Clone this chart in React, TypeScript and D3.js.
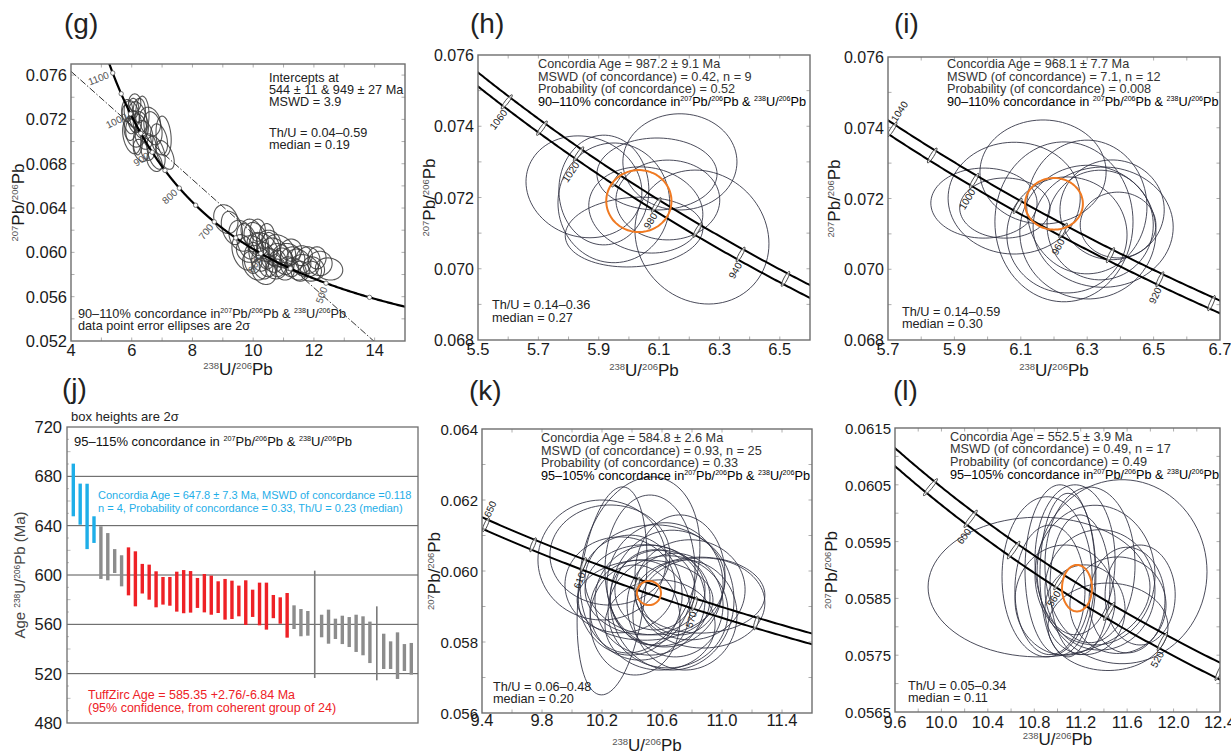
import React from 'react';
import * as d3 from 'd3';

const FONT = '"Liberation Sans", Arial, Helvetica, sans-serif';

// decay constants (1/Ma) and 238U/235U for the Tera-Wasserburg concordia
const L238 = 1.55125e-4;
const L235 = 9.8485e-4;
const U_RATIO = 137.88;
const BAND = 0.0026; // half width of the decay-constant envelope (relative)

// ---- (g) discordia plot: ellipses are [x, y, halfX, halfY, rho]
const gEllipses = [
  [6.0, 0.0725, 0.25, 0.0012, -0.3],
  [6.1, 0.0718, 0.22, 0.001, -0.2],
  [5.95, 0.0712, 0.2, 0.0011, 0],
  [6.2, 0.0722, 0.3, 0.0014, -0.3],
  [6.05, 0.073, 0.18, 0.0009, 0],
  [6.3, 0.0715, 0.25, 0.0012, -0.2],
  [5.9, 0.072, 0.22, 0.0013, -0.4],
  [6.15, 0.071, 0.35, 0.0015, 0],
  [6.25, 0.0728, 0.2, 0.0011, 0],
  [6.4, 0.0706, 0.3, 0.0013, -0.2],
  [6.0, 0.0705, 0.3, 0.0016, -0.3],
  [6.35, 0.0724, 0.22, 0.0017, 0],
  [6.1, 0.0735, 0.2, 0.0008, 0],
  [5.85, 0.0728, 0.18, 0.001, 0],
  [6.2, 0.07, 0.15, 0.0012, 0],
  [6.7, 0.0712, 0.3, 0.0015, -0.3],
  [6.9, 0.0702, 0.28, 0.0014, -0.3],
  [6.55, 0.0695, 0.25, 0.0012, 0],
  [7.05, 0.0705, 0.25, 0.0018, -0.2],
  [6.8, 0.069, 0.3, 0.0015, -0.4],
  [7.1, 0.0688, 0.3, 0.0013, -0.5],
  [6.6, 0.0718, 0.35, 0.0013, -0.2],
  [6.3, 0.0692, 0.25, 0.001, -0.3],
  [6.75, 0.0682, 0.25, 0.0009, -0.3],
  [9.1, 0.063, 0.4, 0.0013, -0.2],
  [9.3, 0.0622, 0.35, 0.0015, -0.3],
  [9.6, 0.0615, 0.4, 0.0014, -0.2],
  [9.8, 0.061, 0.35, 0.0016, -0.3],
  [9.9, 0.0603, 0.45, 0.0012, 0],
  [10.1, 0.0612, 0.4, 0.0015, -0.3],
  [10.2, 0.06, 0.35, 0.0017, -0.2],
  [10.3, 0.0605, 0.5, 0.0013, -0.3],
  [10.0, 0.0595, 0.3, 0.0014, 0],
  [10.4, 0.0597, 0.3, 0.0012, -0.2],
  [10.5, 0.0608, 0.4, 0.0012, 0],
  [10.6, 0.0593, 0.35, 0.0011, -0.3],
  [10.7, 0.06, 0.45, 0.0013, -0.2],
  [10.8, 0.059, 0.3, 0.0012, 0],
  [10.9, 0.0597, 0.4, 0.0011, -0.3],
  [10.5, 0.0588, 0.3, 0.001, 0],
  [10.3, 0.059, 0.35, 0.0014, -0.2],
  [11.0, 0.0592, 0.35, 0.0012, -0.2],
  [11.1, 0.0598, 0.45, 0.001, 0],
  [11.2, 0.0587, 0.3, 0.0009, -0.2],
  [11.3, 0.0594, 0.4, 0.0011, 0],
  [11.4, 0.0585, 0.35, 0.001, -0.3],
  [11.5, 0.0592, 0.4, 0.0011, -0.2],
  [11.6, 0.0597, 0.35, 0.0009, 0],
  [11.7, 0.0588, 0.45, 0.001, -0.2],
  [11.8, 0.0593, 0.4, 0.0012, 0],
  [12.0, 0.0586, 0.35, 0.001, -0.2],
  [12.2, 0.059, 0.4, 0.0011, 0],
  [12.5, 0.0585, 0.45, 0.001, -0.1],
  [10.15, 0.062, 0.25, 0.001, 0],
  [10.6, 0.0603, 0.3, 0.0015, -0.3],
  [10.75, 0.0585, 0.35, 0.0009, 0],
  [11.05, 0.0583, 0.3, 0.0008, 0],
  [10.9, 0.0602, 0.5, 0.0014, -0.3],
  [9.7, 0.06, 0.4, 0.0016, -0.3],
  [9.95, 0.0618, 0.35, 0.0012, -0.2],
  [10.45, 0.0615, 0.25, 0.0011, 0],
  [11.25, 0.0602, 0.35, 0.001, 0],
  [11.55, 0.0583, 0.3, 0.0009, 0],
  [10.35, 0.0583, 0.4, 0.0012, -0.2],
  [12.1, 0.0595, 0.3, 0.001, 0],
  [11.9, 0.0583, 0.35, 0.0009, 0],
  [10.05, 0.0588, 0.4, 0.0013, -0.3],
];
const gIntercepts = [544, 949];
const gMarkerAges = [1100, 1050, 1000, 950, 900, 850, 800, 750, 700, 650, 600, 550, 500, 450];
const gLabelAges = [1100, 1000, 900, 800, 700, 600, 500];
const gXTicks = [4, 6, 8, 10, 12, 14];
const gYTicks = [0.052, 0.056, 0.06, 0.064, 0.068, 0.072, 0.076];

// ---- (h)
const hEllipses = [
  [5.851, 0.0723, 0.192, 0.00143, -0.1],
  [5.95, 0.07185, 0.185, 0.00168, 0],
  [6.017, 0.07103, 0.228, 0.00098, 0.1],
  [6.169, 0.073, 0.189, 0.00135, 0],
  [6.242, 0.07089, 0.222, 0.00188, -0.1],
  [5.917, 0.07221, 0.149, 0.00154, 0],
  [6.093, 0.07266, 0.199, 0.00101, 0],
  [6.056, 0.07165, 0.189, 0.00121, -0.1],
  [6.129, 0.07193, 0.172, 0.00112, 0],
];
const hMean = [6.033, 0.0719, 0.108, 0.00087, 0];
const hMarkerAges = [1060, 1040, 1020, 1000, 980, 960, 940, 920];
const hLabelAges = [1060, 1020, 980, 940];
const hXTicks = [5.5, 5.7, 5.9, 6.1, 6.3, 6.5];
const hYTicks = [0.068, 0.07, 0.072, 0.074, 0.076];

// ---- (i)
const iEllipses = [
  [5.989, 0.07187, 0.16, 0.00099, 0],
  [6.08, 0.07201, 0.199, 0.00158, 0],
  [6.167, 0.07275, 0.19, 0.00147, 0],
  [6.052, 0.07173, 0.136, 0.00085, 0],
  [6.23, 0.07134, 0.208, 0.00226, 0],
  [6.302, 0.07105, 0.205, 0.00189, 0],
  [6.348, 0.07119, 0.211, 0.0017, 0],
  [6.339, 0.07125, 0.16, 0.00155, 0],
  [6.239, 0.07097, 0.181, 0.00164, 0],
  [6.375, 0.07168, 0.157, 0.00141, 0],
  [6.299, 0.07176, 0.181, 0.00189, 0],
  [6.393, 0.07125, 0.114, 0.00093, 0],
];
const iMean = [6.2, 0.07185, 0.087, 0.00073, 0];
const iMarkerAges = [1040, 1020, 1000, 980, 960, 940, 920, 900];
const iLabelAges = [1040, 1000, 960, 920];
const iXTicks = [5.7, 5.9, 6.1, 6.3, 6.5, 6.7];
const iYTicks = [0.068, 0.07, 0.072, 0.074, 0.076];

// ---- (k)
const kEllipses = [
  [10.2, 0.06031, 0.427, 0.00169, 0],
  [10.267, 0.05944, 0.233, 0.00293, 0.3],
  [10.453, 0.06017, 0.4, 0.00248, 0.2],
  [10.873, 0.0591, 0.413, 0.00127, 0],
  [10.52, 0.05918, 0.367, 0.00155, 0],
  [10.587, 0.05924, 0.333, 0.00135, 0],
  [10.487, 0.05947, 0.4, 0.00127, 0],
  [10.62, 0.05961, 0.387, 0.00175, 0],
  [10.453, 0.0589, 0.333, 0.00141, 0],
  [10.687, 0.05904, 0.32, 0.00146, 0],
  [10.553, 0.05975, 0.467, 0.00155, 0],
  [10.387, 0.05932, 0.347, 0.00169, 0],
  [10.64, 0.05885, 0.4, 0.00158, 0],
  [10.52, 0.06003, 0.3, 0.00211, 0],
  [10.787, 0.05947, 0.367, 0.00141, 0],
  [10.587, 0.05848, 0.367, 0.00127, 0],
  [10.487, 0.05918, 0.453, 0.00113, 0],
  [10.32, 0.05961, 0.367, 0.00135, 0],
  [10.72, 0.05989, 0.3, 0.00169, 0],
  [10.553, 0.05947, 0.267, 0.00113, 0],
  [10.753, 0.05876, 0.347, 0.00155, 0],
  [10.42, 0.05862, 0.3, 0.00155, 0],
  [10.853, 0.05932, 0.433, 0.00107, 0],
  [10.253, 0.06045, 0.4, 0.00141, 0],
  [10.667, 0.05918, 0.413, 0.00197, 0],
];
const kMean = [10.513, 0.05938, 0.08, 0.00034, 0];
const kMarkerAges = [650, 630, 610, 590, 570, 550];
const kLabelAges = [650, 610, 570];
const kXTicks = [9.4, 9.8, 10.2, 10.6, 11.0, 11.4];
const kYTicks = [0.056, 0.058, 0.06, 0.062, 0.064];

// ---- (l)
const lEllipses = [
  [10.841, 0.0587, 0.956, 0.00123, 0],
  [11.556, 0.05897, 0.732, 0.00162, 0],
  [10.91, 0.05888, 0.388, 0.00141, 0],
  [11.022, 0.059, 0.302, 0.0015, 0],
  [11.09, 0.05891, 0.241, 0.00144, 0],
  [11.151, 0.05918, 0.345, 0.00132, 0],
  [11.194, 0.05874, 0.258, 0.00123, 0],
  [11.28, 0.05909, 0.388, 0.00137, 0],
  [11.599, 0.05847, 0.327, 0.00093, 0],
  [11.435, 0.058, 0.517, 0.00077, 0],
  [11.712, 0.05856, 0.302, 0.00088, 0],
  [11.065, 0.05847, 0.431, 0.00097, 0],
  [11.366, 0.05865, 0.474, 0.00106, 0],
  [11.237, 0.0583, 0.345, 0.00079, 0],
  [10.935, 0.05865, 0.302, 0.00114, 0],
  [11.521, 0.05838, 0.414, 0.00085, 0],
  [11.323, 0.05891, 0.517, 0.00123, 0],
];
const lMean = [11.168, 0.05868, 0.129, 0.00041, 0];
const lMarkerAges = [620, 600, 580, 560, 540, 520, 500];
const lLabelAges = [600, 560, 520];
const lXTicks = [9.6, 10.0, 10.4, 10.8, 11.2, 11.6, 12.0, 12.4];
const lYTicks = [0.0565, 0.0575, 0.0585, 0.0595, 0.0605, 0.0615];

// ---- (j) 238U/206Pb ages (Ma), 2 sigma boxes
const jTop = [690.3, 674.1, 674, 647.6, 639.5, 634, 621, 616, 622.4, 619.2, 609, 608.4, 603, 598.4, 598.4, 602.7, 604, 603.2, 597.6, 600.8, 599.5, 594.9, 596.8, 595.4, 591.4, 595.7, 588.1, 593.8, 593.8, 583.8, 581.9, 585.4, 575.4, 572.4, 570.8, 603.5, 567.8, 571.9, 564.6, 567, 565.9, 567.8, 566.5, 562.2, 574.6, 552.4, 546.2, 553.5, 544, 544.9];
const jBottom = [647.6, 640.8, 621, 626, 596.8, 595.7, 601.6, 590.8, 583.5, 574.6, 585, 580, 573.8, 576, 575.1, 570.3, 569, 569.5, 573.3, 569.7, 567.8, 569.2, 563.8, 564.3, 566.5, 559.5, 566, 559.2, 555.7, 565, 560.5, 549.2, 556.2, 550.3, 550.8, 516.5, 549.5, 544.3, 548.1, 544, 541.6, 537.6, 534.9, 528.6, 514.6, 523.8, 523.8, 515.7, 522.2, 519.2];
const jGroup = 'bbbbggggrrrrrrrrrrrrrrrrrrrrrrrrgggtggggggggtggggg';
const jYTicks = [480, 520, 560, 600, 640, 680, 720];
const jGrid = [520, 560, 600, 640, 680];

function tw(t: number) {
  const e8 = Math.exp(L238 * t) - 1;
  const e5 = Math.exp(L235 * t) - 1;
  return { x: 1 / e8, y: e5 / e8 / U_RATIO };
}

// "^207Pb" -> superscript mass numbers
function rich(s: string, fs: number, supFill?: string) {
  const parts = s.split(/(\^\d+)/).filter((p) => p.length > 0);
  const sh = fs * 0.36;
  let up = false;
  return parts.map((p, i) => {
    if (p[0] === '^') {
      const el = (
        <tspan key={i} fontSize={fs * 0.56} dy={up ? 0 : -sh} fill={supFill}>
          {p.slice(1)}
        </tspan>
      );
      up = true;
      return el;
    }
    const el = (
      <tspan key={i} dy={up ? sh : 0}>
        {p}
      </tspan>
    );
    up = false;
    return el;
  });
}

type Note = { t: string; x: number; y: number; fill?: string };
type Cfg = {
  id: string;
  letter: string;
  letterPos: [number, number];
  box: [number, number, number, number];
  xDomain: [number, number];
  yDomain: [number, number];
  xTicks: number[];
  yTicks: number[];
  xFmt: string;
  yFmt: string;
  xLabelDy: number;
  yLabelFs: number;
  ellipses: number[][];
  mean?: number[];
  band: boolean;
  ages: [number, number];
  markers: number[];
  labels: number[];
  discordia?: number[];
  notes: Note[];
  xTitleY: number;
  yTitleX: number;
};

function ConcordiaPanel({ c }: { c: Cfg }) {
  const [x0, y0, x1, y1] = c.box;
  const xs = d3.scaleLinear().domain(c.xDomain).range([x0, x1]);
  const ys = d3.scaleLinear().domain(c.yDomain).range([y1, y0]);
  const line = d3.line<[number, number]>();
  const ts = d3.range(c.ages[0], c.ages[1] + 0.5, 1);
  const pt = (t: number, f: number): [number, number] => {
    const p = tw(t);
    return [xs(p.x), ys(p.y * f)];
  };
  const curve = (f: number) => line(ts.map((t) => pt(t, f))) || '';
  const fHi = c.band ? 1 + BAND : 1;
  const fLo = c.band ? 1 - BAND : 1;

  const ellPath = (e: number[]) => {
    const [cx, cy, sx, sy, r] = e;
    const q = Math.sqrt(1 - r * r);
    const pts = d3.range(0, 90).map((i): [number, number] => {
      const a = (i / 90) * 2 * Math.PI;
      return [xs(cx + sx * Math.cos(a)), ys(cy + sy * (r * Math.cos(a) + q * Math.sin(a)))];
    });
    return d3.line().curve(d3.curveCardinalClosed)(pts) || '';
  };

  const geom = (t: number) => {
    const a = pt(t + 0.5, 1);
    const b = pt(t - 0.5, 1);
    const L = Math.hypot(b[0] - a[0], b[1] - a[1]);
    const tx = (b[0] - a[0]) / L;
    const ty = (b[1] - a[1]) / L;
    return { nx: -ty, ny: tx, rot: (Math.atan2(ty, tx) * 180) / Math.PI - 90 };
  };

  let disc: string | null = null;
  if (c.discordia) {
    const p1 = tw(c.discordia[0]);
    const p2 = tw(c.discordia[1]);
    const slope = (p2.y - p1.y) / (p2.x - p1.x);
    const yAt = (x: number) => p1.y + slope * (x - p1.x);
    disc = line([
      [xs(c.xDomain[0]), ys(yAt(c.xDomain[0]))],
      [xs(c.xDomain[1]), ys(yAt(c.xDomain[1]))],
    ]);
  }

  const xf = d3.format(c.xFmt);
  const yf = d3.format(c.yFmt);
  const minorX = c.xTicks.slice(0, -1).map((v, i) => (v + c.xTicks[i + 1]) / 2);
  const minorY = c.yTicks.slice(0, -1).map((v, i) => (v + c.yTicks[i + 1]) / 2);
  const allX = [...c.xTicks, ...minorX].filter((v) => v > c.xDomain[0] && v < c.xDomain[1]);
  const allY = [...c.yTicks, ...minorY].filter((v) => v > c.yDomain[0] && v < c.yDomain[1]);

  return (
    <g fontFamily={FONT}>
      <defs>
        <clipPath id={`clip-${c.id}`}>
          <rect x={x0} y={y0} width={x1 - x0} height={y1 - y0} />
        </clipPath>
      </defs>
      <text x={c.letterPos[0]} y={c.letterPos[1]} fontSize={28} fill="#222">
        {c.letter}
      </text>
      {allX.map((v, i) => (
        <g key={`tx${i}`} stroke="#999" strokeWidth={0.8}>
          <line x1={xs(v)} x2={xs(v)} y1={y1} y2={y1 - 3.5} />
          <line x1={xs(v)} x2={xs(v)} y1={y0} y2={y0 + 3.5} />
        </g>
      ))}
      {allY.map((v, i) => (
        <g key={`ty${i}`} stroke="#999" strokeWidth={0.8}>
          <line x1={x0} x2={x0 + 3.5} y1={ys(v)} y2={ys(v)} />
          <line x1={x1} x2={x1 - 3.5} y1={ys(v)} y2={ys(v)} />
        </g>
      ))}
      <g clipPath={`url(#clip-${c.id})`}>
        {c.ellipses.map((e, i) => (
          <path
            key={i}
            d={ellPath(e)}
            fill="none"
            stroke={c.band ? '#2c2d3e' : '#3a3a3a'}
            strokeOpacity={c.band ? 0.95 : 0.85}
            strokeWidth={c.band ? 0.9 : 1.1}
          />
        ))}
        {disc && (
          <path d={disc} fill="none" stroke="#333" strokeWidth={1} strokeDasharray="7,2,1.5,2" />
        )}
        {c.band ? (
          <>
            <path d={curve(fHi)} fill="none" stroke="#000" strokeWidth={2} />
            <path d={curve(fLo)} fill="none" stroke="#000" strokeWidth={2} />
          </>
        ) : (
          <path d={curve(1)} fill="none" stroke="#000" strokeWidth={2.2} />
        )}
        {c.markers.map((t) => {
          if (!c.band) {
            const p = pt(t, 1);
            return <circle key={t} cx={p[0]} cy={p[1]} r={2.2} fill="#fff" stroke="#555" strokeWidth={0.8} />;
          }
          const hi = pt(t, fHi);
          const lo = pt(t, fLo);
          const g = geom(t);
          const half = Math.hypot(hi[0] - lo[0], hi[1] - lo[1]) / 2;
          return (
            <ellipse
              key={t}
              cx={0}
              cy={0}
              rx={half + 2}
              ry={1.8}
              transform={`translate(${(hi[0] + lo[0]) / 2},${(hi[1] + lo[1]) / 2}) rotate(${g.rot})`}
              fill="#fff"
              fillOpacity={0.6}
              stroke="#333"
              strokeWidth={0.8}
            />
          );
        })}
        {c.mean && (
          <path d={ellPath(c.mean)} fill="none" stroke="#f07a22" strokeWidth={2} />
        )}
        {c.labels.map((t) => {
          const g = geom(t);
          const gap = c.band ? 2.5 : 4.5;
          const lo = pt(t, fLo);
          let px = lo[0] + g.nx * gap;
          let py = lo[1] + g.ny * gap;
          let anchor = 'end';
          const sx = px + g.nx * 22;
          const sy = py + g.ny * 22;
          if (sx < x0 + 2 || sy > y1 - 2) {
            const hi = pt(t, fHi);
            px = hi[0] - g.nx * gap;
            py = hi[1] - g.ny * gap;
            anchor = 'start';
          }
          return (
            <text
              key={t}
              transform={`translate(${px},${py}) rotate(${g.rot})`}
              textAnchor={anchor}
              dominantBaseline="central"
              fontSize={10}
              fill={c.band ? '#222' : '#555'}
            >
              {t}
            </text>
          );
        })}
      </g>
      <rect x={x0} y={y0} width={x1 - x0} height={y1 - y0} fill="none" stroke="#6e6e6e" strokeWidth={1.4} />
      {c.xTicks.map((v) => (
        <text key={`xl${v}`} x={xs(v)} y={y1 + c.xLabelDy} textAnchor="middle" fontSize={16.5} fill="#1a1a1a">
          {xf(v)}
        </text>
      ))}
      {c.yTicks.map((v) => (
        <text key={`yl${v}`} x={x0 - 4} y={ys(v) + 6} textAnchor="end" fontSize={c.yLabelFs} fill="#1a1a1a">
          {yf(v)}
        </text>
      ))}
      <text x={(x0 + x1) / 2} y={c.xTitleY} textAnchor="middle" fontSize={17} fill="#1a1a1a">
        {rich('^238U/^206Pb', 17, '#555')}
      </text>
      <text
        transform={`translate(${c.yTitleX},${(y0 + y1) / 2}) rotate(-90)`}
        textAnchor="middle"
        fontSize={17}
        fill="#1a1a1a"
      >
        {rich('^207Pb/^206Pb', 17, '#555')}
      </text>
      {c.notes.map((n, i) => (
        <text key={`n${i}`} x={n.x} y={n.y} fontSize={12.7} fill={n.fill || '#222'}>
          {rich(n.t, 12.7)}
        </text>
      ))}
    </g>
  );
}

function AgePanel() {
  const x0 = 67;
  const y0 = 427;
  const x1 = 418;
  const y1 = 723;
  const ys = d3.scaleLinear().domain([480, 720]).range([y1, y0]);
  const xs = d3.scaleLinear().domain([0, jTop.length - 1]).range([73.3, 411.3]);
  const color: Record<string, string> = { b: '#1eaee8', r: '#ee2126', g: '#8c8c8c', t: '#7a7a7a' };
  const minor = d3.range(490, 720, 10).filter((v) => v % 40 !== 0);
  return (
    <g fontFamily={FONT}>
      <text x={62} y={398} fontSize={28} fill="#222">
        (j)
      </text>
      <text x={71} y={421} fontSize={13} fill="#222">
        box heights are 2σ
      </text>
      {jGrid.map((v) => (
        <line key={v} x1={x0} x2={x1} y1={ys(v)} y2={ys(v)} stroke="#555" strokeWidth={1} />
      ))}
      {minor.map((v) => (
        <line key={`m${v}`} x1={x0} x2={x0 + (v % 20 === 0 ? 3.5 : 2)} y1={ys(v)} y2={ys(v)} stroke="#aaa" strokeWidth={0.8} />
      ))}
      {jTop.map((top, i) => {
        const g = jGroup[i];
        const w = g === 't' ? 1.6 : 3.4;
        return (
          <rect
            key={i}
            x={xs(i) - w / 2}
            y={ys(top)}
            width={w}
            height={ys(jBottom[i]) - ys(top)}
            fill={color[g]}
          />
        );
      })}
      <rect x={x0} y={y0} width={x1 - x0} height={y1 - y0} fill="none" stroke="#6e6e6e" strokeWidth={1.3} />
      {jYTicks.map((v) => (
        <text key={v} x={62} y={ys(v) + 6} textAnchor="end" fontSize={16.5} fill="#1a1a1a">
          {v}
        </text>
      ))}
      <text transform={`translate(25,${(y0 + y1) / 2}) rotate(-90)`} textAnchor="middle" fontSize={15} fill="#444">
        {rich('Age ^238U/^206Pb (Ma)', 15)}
      </text>
      <text x={74} y={446} fontSize={13} fill="#111">
        {rich('95–115% concordance in ^207Pb/^206Pb & ^238U/^206Pb', 13)}
      </text>
      <text x={98} y={499} fontSize={11} fill="#1eaee8">
        Concordia Age = 647.8 ± 7.3 Ma, MSWD of concordance =0.118
      </text>
      <text x={98} y={512} fontSize={11} fill="#1eaee8">
        n = 4, Probability of concordance = 0.33, Th/U = 0.23 (median)
      </text>
      <text x={88} y={699} fontSize={12.5} fill="#ee2126">
        TuffZirc Age = 585.35 +2.76/-6.84 Ma
      </text>
      <text x={88} y={712} fontSize={12.5} fill="#ee2126">
        (95% confidence, from coherent group of 24)
      </text>
    </g>
  );
}

const panels: Cfg[] = [
  {
    id: 'g',
    letter: '(g)',
    letterPos: [64, 33],
    box: [71, 64, 405, 341],
    xDomain: [4, 15],
    yDomain: [0.052, 0.077],
    xTicks: gXTicks,
    yTicks: gYTicks,
    xFmt: 'd',
    yFmt: '.3f',
    xLabelDy: 15,
    yLabelFs: 16.5,
    ellipses: gEllipses,
    band: false,
    ages: [400, 1200],
    markers: gMarkerAges,
    labels: gLabelAges,
    discordia: gIntercepts,
    notes: [
      { t: 'Intercepts at', x: 269, y: 82 },
      { t: '544 ± 11 & 949 ± 27 Ma', x: 269, y: 94 },
      { t: 'MSWD = 3.9', x: 269, y: 106 },
      { t: 'Th/U = 0.04–0.59', x: 269, y: 137 },
      { t: 'median = 0.19', x: 269, y: 149 },
      { t: '90–110% concordance in^207Pb/^206Pb & ^238U/^206Pb', x: 78, y: 318 },
      { t: 'data point error ellipses are 2σ', x: 78, y: 330 },
    ],
    xTitleY: 375,
    yTitleX: 24,
  },
  {
    id: 'h',
    letter: '(h)',
    letterPos: [470, 33],
    box: [478, 55, 810, 340],
    xDomain: [5.5, 6.6],
    yDomain: [0.068, 0.076],
    xTicks: hXTicks,
    yTicks: hYTicks,
    xFmt: '.1f',
    yFmt: '.3f',
    xLabelDy: 15,
    yLabelFs: 16,
    ellipses: hEllipses,
    mean: hMean,
    band: true,
    ages: [850, 1120],
    markers: hMarkerAges,
    labels: hLabelAges,
    notes: [
      { t: 'Concordia Age = 987.2 ± 9.1 Ma', x: 538, y: 68, fill: '#333' },
      { t: 'MSWD (of concordance) = 0.42, n = 9', x: 538, y: 80.5, fill: '#333' },
      { t: 'Probability (of concordance) = 0.52', x: 538, y: 93, fill: '#333' },
      { t: '90–110% concordance in^207Pb/^206Pb & ^238U/^206Pb', x: 538, y: 106, fill: '#000' },
      { t: 'Th/U = 0.14–0.36', x: 492, y: 309 },
      { t: 'median = 0.27', x: 492, y: 322 },
    ],
    xTitleY: 376,
    yTitleX: 435,
  },
  {
    id: 'i',
    letter: '(i)',
    letterPos: [894, 33],
    box: [888, 57, 1220, 340],
    xDomain: [5.7, 6.7],
    yDomain: [0.068, 0.076],
    xTicks: iXTicks,
    yTicks: iYTicks,
    xFmt: '.1f',
    yFmt: '.3f',
    xLabelDy: 15,
    yLabelFs: 16,
    ellipses: iEllipses,
    mean: iMean,
    band: true,
    ages: [850, 1100],
    markers: iMarkerAges,
    labels: iLabelAges,
    notes: [
      { t: 'Concordia Age = 968.1 ± 7.7 Ma', x: 947, y: 68, fill: '#333' },
      { t: 'MSWD (of concordance) = 7.1, n = 12', x: 947, y: 80.5, fill: '#333' },
      { t: 'Probability (of concordance) = 0.008', x: 947, y: 93, fill: '#333' },
      { t: '90–110% concordance in ^207Pb/^206Pb & ^238U/^206Pb', x: 947, y: 106, fill: '#000' },
      { t: 'Th/U = 0.14–0.59', x: 902, y: 316 },
      { t: 'median = 0.30', x: 902, y: 328 },
    ],
    xTitleY: 376,
    yTitleX: 840,
  },
  {
    id: 'k',
    letter: '(k)',
    letterPos: [469, 400],
    box: [482, 429, 812, 713],
    xDomain: [9.4, 11.6],
    yDomain: [0.056, 0.064],
    xTicks: kXTicks,
    yTicks: kYTicks,
    xFmt: '.1f',
    yFmt: '.3f',
    xLabelDy: 13,
    yLabelFs: 15,
    ellipses: kEllipses,
    mean: kMean,
    band: true,
    ages: [520, 680],
    markers: kMarkerAges,
    labels: kLabelAges,
    notes: [
      { t: 'Concordia Age = 584.8 ± 2.6 Ma', x: 541, y: 442, fill: '#333' },
      { t: 'MSWD (of concordance) = 0.93, n = 25', x: 541, y: 454.5, fill: '#333' },
      { t: 'Probability (of concordance) = 0.33', x: 541, y: 467, fill: '#333' },
      { t: '95–105% concordance in^207Pb/^206Pb & ^238U/^206Pb', x: 541, y: 480, fill: '#000' },
      { t: 'Th/U = 0.06–0.48', x: 493, y: 691 },
      { t: 'median = 0.20', x: 493, y: 703 },
    ],
    xTitleY: 751,
    yTitleX: 440,
  },
  {
    id: 'l',
    letter: '(l)',
    letterPos: [893, 400],
    box: [895, 428, 1220, 712],
    xDomain: [9.6, 12.4],
    yDomain: [0.0565, 0.0615],
    xTicks: lXTicks,
    yTicks: lYTicks,
    xFmt: '.1f',
    yFmt: '.4f',
    xLabelDy: 16,
    yLabelFs: 15,
    ellipses: lEllipses,
    mean: lMean,
    band: true,
    ages: [470, 660],
    markers: lMarkerAges,
    labels: lLabelAges,
    notes: [
      { t: 'Concordia Age = 552.5 ± 3.9 Ma', x: 950, y: 441, fill: '#333' },
      { t: 'MSWD (of concordance) = 0.49, n = 17', x: 950, y: 453, fill: '#333' },
      { t: 'Probability (of concordance) = 0.49', x: 950, y: 465.5, fill: '#333' },
      { t: '95–105% concordance in^207Pb/^206Pb & ^238U/^206Pb', x: 950, y: 479, fill: '#000' },
      { t: 'Th/U = 0.05–0.34', x: 908, y: 690 },
      { t: 'median = 0.11', x: 908, y: 702 },
    ],
    xTitleY: 745,
    yTitleX: 837,
  },
];

export default function App() {
  return (
    <svg
      width={1231}
      height={751}
      viewBox="0 0 1231 751"
      style={{ position: 'absolute', left: 0, top: 0, background: '#fff' }}
    >
      <rect width={1231} height={751} fill="#fff" />
      {panels.map((c) => (
        <ConcordiaPanel key={c.id} c={c} />
      ))}
      <AgePanel />
    </svg>
  );
}
